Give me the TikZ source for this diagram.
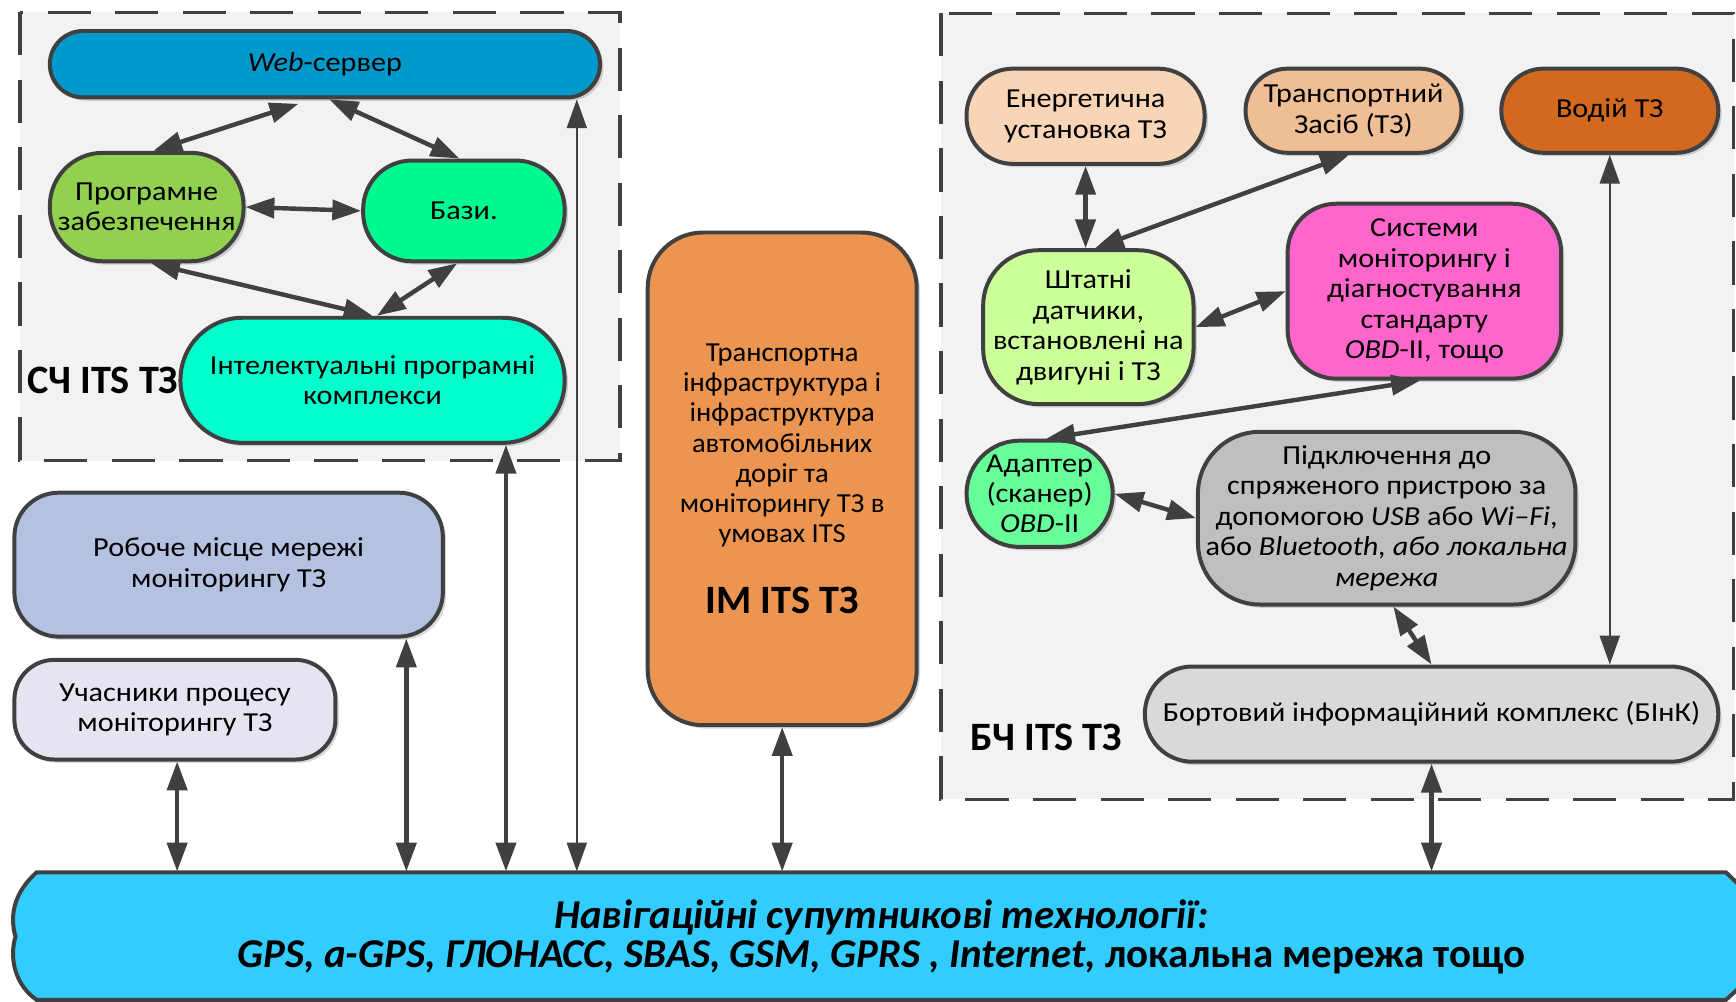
\documentclass[tikz,border=0pt]{standalone}
\usepackage{fontspec}
\setmainfont{Carlito}[FakeStretch=1.1]
\newfontfamily\plainfont{Carlito}
\newfontfamily\orangefont{Carlito}[FakeStretch=1.04]
\usetikzlibrary{arrows.meta,shadows,calc}

\definecolor{edge}{HTML}{404040}
\definecolor{framefill}{HTML}{F2F2F2}
\definecolor{webc}{HTML}{0099CC}
\definecolor{progc}{HTML}{92D050}
\definecolor{bazc}{HTML}{00FA8F}
\definecolor{intelc}{HTML}{00FFCC}
\definecolor{workc}{HTML}{B4C1E1}
\definecolor{partc}{HTML}{E6E4F0}
\definecolor{imc}{HTML}{EB9550}
\definecolor{energc}{HTML}{F8D5B7}
\definecolor{transc}{HTML}{F0BE94}
\definecolor{driverc}{HTML}{D2691E}
\definecolor{sensc}{HTML}{CCFF99}
\definecolor{sysc}{HTML}{FF66CC}
\definecolor{adaptc}{HTML}{66FF99}
\definecolor{connc}{HTML}{BFBFBF}
\definecolor{binkc}{HTML}{D9D9D9}
\definecolor{navc}{HTML}{33CCFF}

\begin{document}
\begin{tikzpicture}[x=0.5pt,y=-0.5pt,
  box/.style={draw=edge, line width=1.8pt, align=center, inner sep=0pt,
    font=\fontsize{12.4}{13.75}\selectfont,
    drop shadow={shadow xshift=1.5pt, shadow yshift=-1.5pt, fill=black, opacity=0.15}},
  frame/.style={draw=edge, line width=1.5pt, dash pattern=on 19.5pt off 11pt, fill=framefill},
  tip/.tip={Triangle[length=13pt,width=9pt]},
  dbl/.style={tip-tip, draw=edge, line width=2pt},
  dblthin/.style={tip-tip, draw=edge, line width=1pt},
  grouplabel/.style={font=\plainfont\fontsize{18.2}{20}\selectfont\bfseries, anchor=west, inner sep=0pt}]
\useasboundingbox (0,0) rectangle (1568,905);

% group frames
\draw[frame] (18,11) rectangle (560,416);
\draw[frame] (850,12) rectangle (1566,722);

% navigation bar outline
\path[fill=navc, draw=edge, line width=1.8pt]
  (33,788) -- (1559,788) -- (1582,810) -- (1582,882) -- (1559,903)
  -- (33,903) .. controls (14,890) and (8,866) .. (14,846)
  .. controls (8,825) and (14,805) .. (33,788) -- cycle;
\node[minimum width=779pt, minimum height=58pt, inner sep=0pt] (nav) at (789,845.5) {};
\node[align=center, inner sep=0pt, font=\plainfont\fontsize{18.5}{17.5}\selectfont\bfseries] (navlabel) at (796,846)
  {\itshape Навігаційні супутникові технології:\\
   {\itshape GPS, a-GPS, ГЛОНАСС, SBAS, GSM, GPRS , Internet,} локальна мережа тощо};

% central part
\node[box, fill=webc, minimum width=248.5pt, minimum height=30pt, rounded corners=15pt] (web) at (293.5,58) {\textit{Web}-сервер};
\node[box, fill=progc, minimum width=87.5pt, minimum height=49pt, rounded corners=24pt] (prog) at (132.5,187) {Програмне\\забезпечення};
\node[box, fill=bazc, minimum width=91pt, minimum height=45.5pt, rounded corners=22pt] (baz) at (419,190.5) {Бази.};
\node[box, fill=intelc, minimum width=173.5pt, minimum height=56.5pt, rounded corners=28pt] (intel) at (336.5,343.5) {Інтелектуальні програмні\\комплекси};
\node[grouplabel] (sclabel) at (24,344) {СЧ ITS ТЗ};

% left column
\node[box, fill=workc, minimum width=193.5pt, minimum height=65pt, rounded corners=20pt] (work) at (206.5,510) {Робоче місце мережі\\моніторингу ТЗ};
\node[box, fill=partc, minimum width=145pt, minimum height=45pt, rounded corners=18pt] (part) at (158,641) {Учасники процесу\\моніторингу ТЗ};

% infrastructure
\node[box, fill=imc, minimum width=121.5pt, minimum height=222.5pt, rounded corners=25pt,
      font=\orangefont\fontsize{12.4}{13.65}\selectfont] (im) at (706.5,432.5)
  {Транспортна\\інфраструктура і\\інфраструктура\\автомобільних\\доріг та\\моніторингу ТЗ в\\умовах ITS\\[17pt]{\plainfont\fontsize{18.2}{20}\selectfont\bfseries IM ITS ТЗ}};

% on-board part
\node[box, fill=energc, minimum width=107.5pt, minimum height=43pt, rounded corners=21pt] (energ) at (980.5,105) {Енергетична\\установка ТЗ};
\node[box, fill=transc, minimum width=97.5pt, minimum height=38pt, rounded corners=19pt] (trans) at (1222.5,100) {Транспортний\\Засіб (ТЗ)};
\node[box, fill=driverc, minimum width=98pt, minimum height=38pt, rounded corners=19pt] (driver) at (1454,100) {Водій ТЗ};
\node[box, fill=sensc, minimum width=95pt, minimum height=69.5pt, rounded corners=25pt] (sens) at (983,295.5) {Штатні\\датчики,\\встановлені на\\двигуні і ТЗ};
\node[box, fill=sysc, minimum width=123.5pt, minimum height=79pt, rounded corners=22pt] (sys) at (1286.5,263) {Системи\\моніторингу і\\діагностування\\стандарту\\\textit{OBD}-II, тощо};
\node[box, fill=adaptc, minimum width=66pt, minimum height=48pt, rounded corners=24pt] (adapt) at (939,446) {Адаптер\\(сканер)\\\textit{OBD}-II};
\node[box, fill=connc, minimum width=170.5pt, minimum height=78pt, rounded corners=28pt] (conn) at (1252.5,468) {Підключення до\\спряженого пристрою за\\допомогою \textit{USB} або \textit{Wi–Fi},\\або \textit{Bluetooth, або локальна}\\\textit{мережа}};
\node[box, fill=binkc, minimum width=259pt, minimum height=43pt, rounded corners=21.5pt] (bink) at (1293,645) {Бортовий інформаційний комплекс (БІнК)};
\node[grouplabel] (bclabel) at (876,666) {БЧ ITS ТЗ};

% links inside the central part
\draw[dbl] ([xshift=-12pt,yshift=-2pt]web.south) -- ([xshift=3pt]prog.north);
\draw[dbl] ([xshift=2pt]web.south) -- ([xshift=-2pt]baz.north);
\draw[dbl] (prog.east) -- (baz.west);
\draw[dbl] ([xshift=2pt]prog.south) -- (intel.north);
\draw[dbl] ([xshift=-3pt]baz.south) -- ([xshift=2pt]intel.north);

% links inside the on-board part
\draw[dbl] (energ.south) -- (energ.south |- sens.north);
\draw[dbl] ([xshift=-2pt]trans.south) -- ([xshift=3pt]sens.north);
\draw[dbl] (sens.east) -- (sys.west);
\draw[dbl] ([xshift=-2pt]sys.south) -- ([xshift=3pt]adapt.north);
\draw[dbl] (adapt.east) -- (conn.west);
\draw[dbl] ([xshift=3pt]conn.south) -- (bink.north);
\draw[dblthin] (driver.south) -- (driver.south |- bink.north);

% links to the navigation bar
\coordinate (xpart) at (160,0);
\coordinate (xwork) at (367,0);
\coordinate (xintel) at (457,0);
\coordinate (xweb) at (521,0);
\draw[dbl] (xpart |- part.south) -- (xpart |- nav.north);
\draw[dbl] (xwork |- work.south) -- (xwork |- nav.north);
\draw[dbl] (xintel |- intel.south) -- (xintel |- nav.north);
\draw[dblthin] (xweb |- web.south) -- (xweb |- nav.north);
\draw[dbl] (im.south) -- (im.south |- nav.north);
\draw[dbl] (bink.south) -- (bink.south |- nav.north);
\end{tikzpicture}
\end{document}
